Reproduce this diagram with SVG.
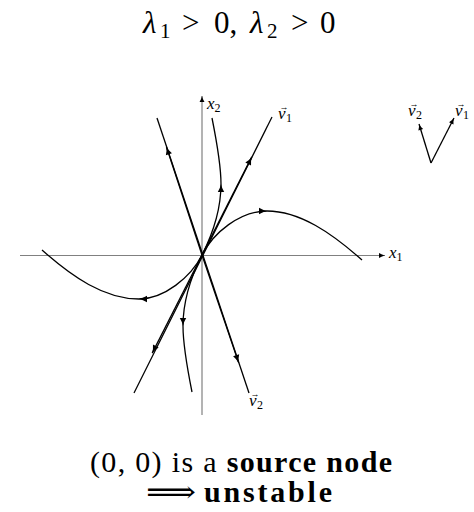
<svg xmlns="http://www.w3.org/2000/svg" width="474" height="512" viewBox="0 0 474 512">
<style>
.ax{fill:none;stroke:#808080;stroke-width:1.2}
.tr{fill:none;stroke:#000;stroke-width:1.3}
.ar{marker-end:url(#ah)}
.sm{marker-end:url(#ahs)}
.t{font-family:"Liberation Serif","DejaVu Serif",serif;fill:#000}
.it{font-style:italic}
.b{font-weight:bold}
.sub{font-size:12px;font-style:normal}
.vec{font-size:9px;font-style:normal}
</style>
<defs>
<marker id="ah" markerUnits="userSpaceOnUse" viewBox="-9 -4 10 8" refX="0" refY="0" markerWidth="10" markerHeight="8" orient="auto" overflow="visible">
<path d="M-8,-3.2 Q-4,-0.8 0,0 Q-4,0.8 -8,3.2 Z" fill="#000"/>
</marker>
<marker id="ahs" markerUnits="userSpaceOnUse" viewBox="-9 -4 10 8" refX="0" refY="0" markerWidth="10" markerHeight="8" orient="auto" overflow="visible">
<path d="M-6,-2.5 Q-3,-0.6 0,0 Q-3,0.6 -6,2.5 Z" fill="#000"/>
</marker>
</defs>
<rect width="474" height="512" fill="#fff"/>
<text class="t" font-size="31" y="33"><tspan class="it" x="143">λ</tspan><tspan x="160" font-size="21" dy="5">1</tspan><tspan x="182" dy="-5">&gt;</tspan><tspan x="214">0,</tspan><tspan class="it" x="250">λ</tspan><tspan x="267" font-size="21" dy="5">2</tspan><tspan x="291" dy="-5">&gt;</tspan><tspan x="320">0</tspan></text>
<g id="axes">
<path class="ax sm" d="M20,255.5 H385"/>
<path class="ax sm" d="M202,415 V96"/>
<text class="t it" font-size="17" x="389" y="258">x<tspan class="sub" dy="3">1</tspan></text>
<text class="t it" font-size="17" x="207" y="109">x<tspan class="sub" dy="3">2</tspan></text>
</g>
<g id="connectors">
<g id="eigen-v1">
<path class="tr" d="M134,393 L272,117"/>
<path class="tr ar" d="M202,255 L251.8,156.9"/>
<path class="tr ar" d="M202,255 L152.2,353.1"/>
</g>
<g id="eigen-v2">
<path class="tr" d="M157,118 L249,393"/>
<path class="tr ar" d="M202,255 L166.4,146.7"/>
<path class="tr ar" d="M202,255 L238.7,362.9"/>
</g>
<g id="curves">
<path class="tr ar" d="M202,255 C213.3,232.7 240,211 267,211"/>
<path class="tr" d="M267,211 C300,211 332,233.4 362,260"/>
<path class="tr ar" d="M202,255 C190.7,277.3 164,299 139,299"/>
<path class="tr" d="M139,299 C104,299 72,276.6 42,250"/>
<path class="tr ar" d="M202,255 C213.3,232.7 221,207 221,184"/>
<path class="tr" d="M221,184 C221,165 216,138 212,118"/>
<path class="tr ar" d="M202,255 C190.7,277.3 183,303 183,326"/>
<path class="tr" d="M183,326 C183,345 188,372 192,392"/>
</g>
</g>
<g id="label-v1">
<text class="t it" font-size="17" x="278" y="119">v<tspan class="vec" x="279.5" dy="-9">→</tspan><tspan class="sub" x="286" dy="12">1</tspan></text>
</g>
<g id="label-v2">
<text class="t it" font-size="17" x="249" y="406">v<tspan class="vec" x="250.5" dy="-9">→</tspan><tspan class="sub" x="257" dy="12">2</tspan></text>
</g>
<g id="inset">
<path class="tr sm" d="M431,163 L419,124"/>
<path class="tr sm" d="M431,163 L454,118"/>
<text class="t it" font-size="17" x="408" y="116">v<tspan class="vec" x="409.5" dy="-9">→</tspan><tspan class="sub" x="416" dy="12">2</tspan></text>
<text class="t it" font-size="17" x="455" y="116">v<tspan class="vec" x="456.5" dy="-9">→</tspan><tspan class="sub" x="463" dy="12">1</tspan></text>
</g>
<text class="t" font-size="30" x="90" y="472" textLength="302" lengthAdjust="spacing">(0, 0) is a <tspan class="b">source node</tspan></text>
<text class="t" font-size="30" x="146" y="502" textLength="50" lengthAdjust="spacingAndGlyphs">⟹</text>
<text class="t b" font-size="30" x="204" y="502" textLength="128" lengthAdjust="spacing">unstable</text>
</svg>
